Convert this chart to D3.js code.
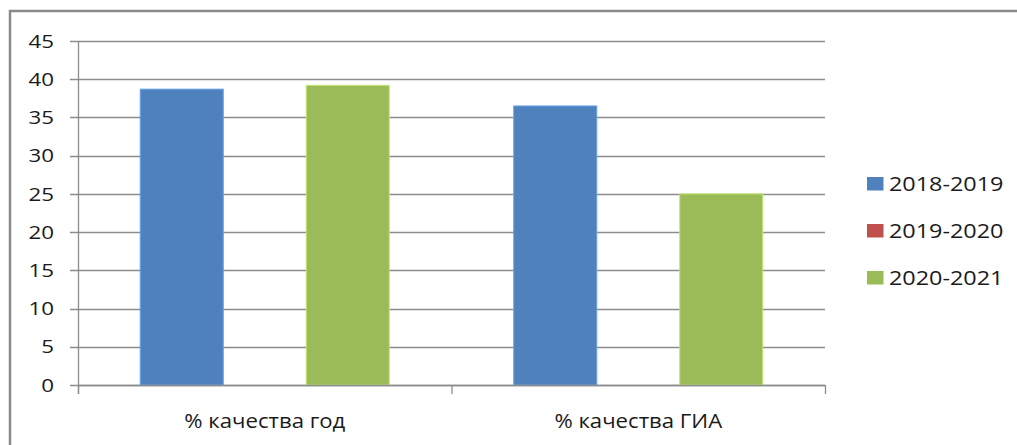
<!DOCTYPE html>
<html><head><meta charset="utf-8">
<script src="https://cdn.jsdelivr.net/npm/d3@7"></script>
<style>html,body{margin:0;padding:0;background:#fff;}svg{display:block;}</style>
</head><body>
<svg id="c" width="1017" height="445"></svg>
<script>
const categories = ["% качества год", "% качества ГИА"];
const seriesNames = ["2018-2019", "2019-2020", "2020-2021"];
const values2018 = [38.7, 36.5];
const values2019 = [0, 0];
const values2020 = [39.2, 25];
const yTicks = [0, 5, 10, 15, 20, 25, 30, 35, 40, 45];
const colors = ["#4F81BD", "#C0504D", "#9BBB59"];

const seriesValues = [values2018, values2019, values2020];
const svg = d3.select("#c");
const FONT = "'Open Sans', Calibri, sans-serif";
const SX = 1.2;

// chart border
svg.append("path").attr("d", "M10,445 L10,11 L1017,11")
  .attr("fill", "none").attr("stroke", "#8a8a8a").attr("stroke-width", 2.5);

const x0 = d3.scaleBand().domain(categories).range([78, 825]).paddingInner(0).paddingOuter(0);
const x1 = d3.scaleBand().domain(seriesNames).range([0, x0.bandwidth()]).paddingInner(0).paddingOuter(0.75);
const y = d3.scaleLinear().domain([0, 45]).range([385, 41]);

// gridlines
svg.append("g").selectAll("line").data(yTicks).join("line")
  .attr("x1", 70).attr("x2", 825)
  .attr("y1", d => Math.round(y(d)) + 0.5).attr("y2", d => Math.round(y(d)) + 0.5)
  .attr("stroke", "#8c8c8c").attr("stroke-width", 1.3);

// bars
const groups = svg.append("g").selectAll("g").data(categories).join("g")
  .attr("transform", d => `translate(${x0(d)},0)`);
groups.selectAll("rect").data((c, ci) => seriesNames.map((s, si) => ({s, si, v: seriesValues[si][ci]})))
  .join("rect")
  .attr("x", d => x1(d.s))
  .attr("width", x1.bandwidth())
  .attr("y", d => y(d.v))
  .attr("height", d => y(0) - y(d.v))
  .attr("fill", d => colors[d.si])
  .attr("stroke", d => d.v > 0 ? d3.color(colors[d.si]).brighter(0.6) : "none")
  .attr("stroke-width", 1);

// y axis line
svg.append("line").attr("x1", 78.5).attr("x2", 78.5).attr("y1", y(45)).attr("y2", 394)
  .attr("stroke", "#8c8c8c").attr("stroke-width", 1.3);
// x axis line
svg.append("line").attr("x1", 78).attr("x2", 825).attr("y1", Math.round(y(0)) + 0.5).attr("y2", Math.round(y(0)) + 0.5)
  .attr("stroke", "#8c8c8c").attr("stroke-width", 1.3);
// category boundary ticks
const bounds = categories.map(c => x0(c)).concat([x0.range()[1]]);
svg.append("g").selectAll("line").data(bounds).join("line")
  .attr("x1", d => d + 0.5).attr("x2", d => d + 0.5).attr("y1", 385).attr("y2", 394)
  .attr("stroke", "#8c8c8c").attr("stroke-width", 1.3);

// y labels
svg.append("g").selectAll("g").data(yTicks).join("g")
  .attr("transform", d => `translate(54,${y(d)}) scale(${SX},1)`)
  .append("text").attr("text-anchor", "end").attr("dy", "0.36em")
  .attr("font-family", FONT).attr("font-size", 18.6).attr("fill", "#1a1a1a")
  .text(d => d);

// category labels
svg.append("g").selectAll("g").data(categories).join("g")
  .attr("transform", d => `translate(${x0(d) + x0.bandwidth() / 2},428) scale(1.08,1)`)
  .append("text").attr("text-anchor", "middle")
  .attr("font-family", FONT).attr("font-size", 20.5).attr("fill", "#1a1a1a")
  .text(d => d);

// legend
const leg = svg.append("g").selectAll("g").data(seriesNames).join("g")
  .attr("transform", (d, i) => `translate(867,${191 + i * 47})`);
leg.append("rect").attr("x", 0).attr("y", -14).attr("width", 16.5).attr("height", 13.5)
  .attr("fill", (d, i) => colors[i]);
leg.append("g").attr("transform", `translate(22,0) scale(${SX},1)`)
  .append("text").attr("font-family", FONT).attr("font-size", 19.5).attr("fill", "#1a1a1a")
  .text(d => d);
</script>
</body></html>
